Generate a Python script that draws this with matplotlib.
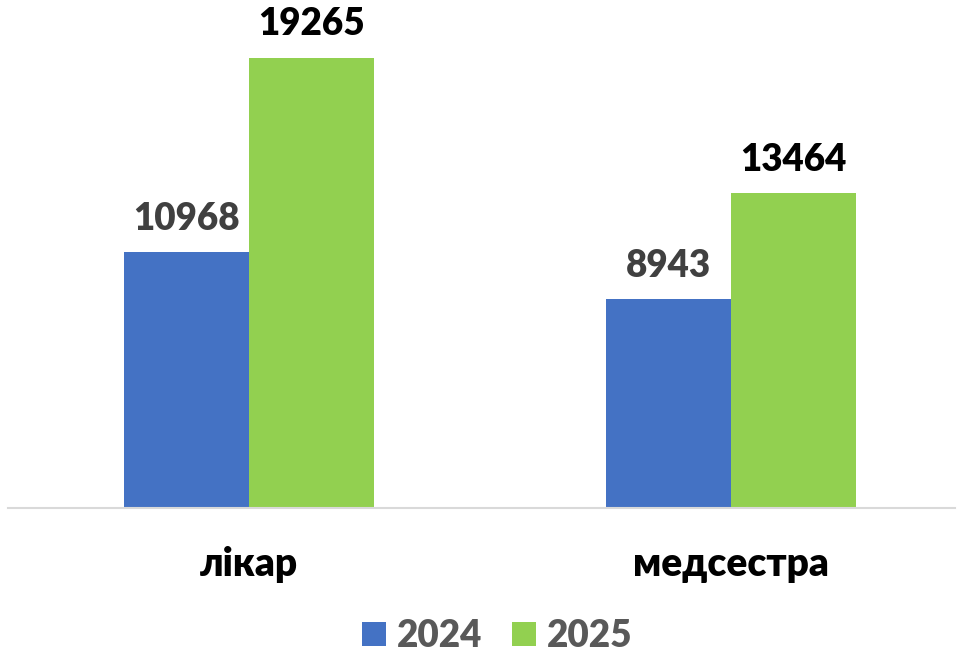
import numpy as np
import matplotlib.pyplot as plt

categories = ['лікар', 'медсестра']
years = ['2024', '2025']
values_2024 = [10968, 8943]
values_2025 = [19265, 13464]

blue = '#4472C4'
green = '#92D050'

plt.rcParams['font.family'] = ['Lato', 'DejaVu Sans']

fig = plt.figure(figsize=(9.61, 6.56), dpi=100)
# plot area in pixels: x 8..955, y 0..508 (baseline)
ax = fig.add_axes([8 / 961, 1 - 508 / 656, (955 - 8) / 961, 508 / 656])

x = np.arange(len(categories))
w = 0.26
b1 = ax.bar(x - w / 2, values_2024, w, color=blue, label=years[0])
b2 = ax.bar(x + w / 2, values_2025, w, color=green, label=years[1])

ax.set_xlim(-0.5, 1.465)
ax.set_ylim(0, 21747)

fs = 26.5
for rect, v in zip(b1, values_2024):
    ax.annotate(str(v), (rect.get_x() + rect.get_width() / 2, v),
                xytext=(0, 16), textcoords='offset points',
                ha='center', va='baseline', fontsize=fs,
                fontweight='heavy', color='#404040')
for rect, v in zip(b2, values_2025):
    ax.annotate(str(v), (rect.get_x() + rect.get_width() / 2, v),
                xytext=(0, 16.5), textcoords='offset points',
                ha='center', va='baseline', fontsize=fs,
                fontweight='heavy', color='black')

# category labels, baseline at y=576 px from top
for xi, cat in zip(x, categories):
    ax.annotate(cat, (xi, 656 - 576), xycoords=('data', 'figure pixels'),
                ha='center', va='baseline', fontsize=28,
                fontweight='heavy', color='black', annotation_clip=False)

for s in ['top', 'right', 'left']:
    ax.spines[s].set_visible(False)
ax.spines['bottom'].set_color('#D9D9D9')
ax.spines['bottom'].set_linewidth(1.5)
ax.set_yticks([])
ax.set_xticks([])

fig.legend(loc='center', bbox_to_anchor=(497 / 961, 1 - 636 / 656), ncol=2,
           frameon=False, prop={'weight': 'heavy', 'size': fs},
           handlelength=0.65, handleheight=0.65, handletextpad=0.3,
           columnspacing=0.8, labelcolor='#595959', borderpad=0)

fig.savefig('out.png', dpi=100)
